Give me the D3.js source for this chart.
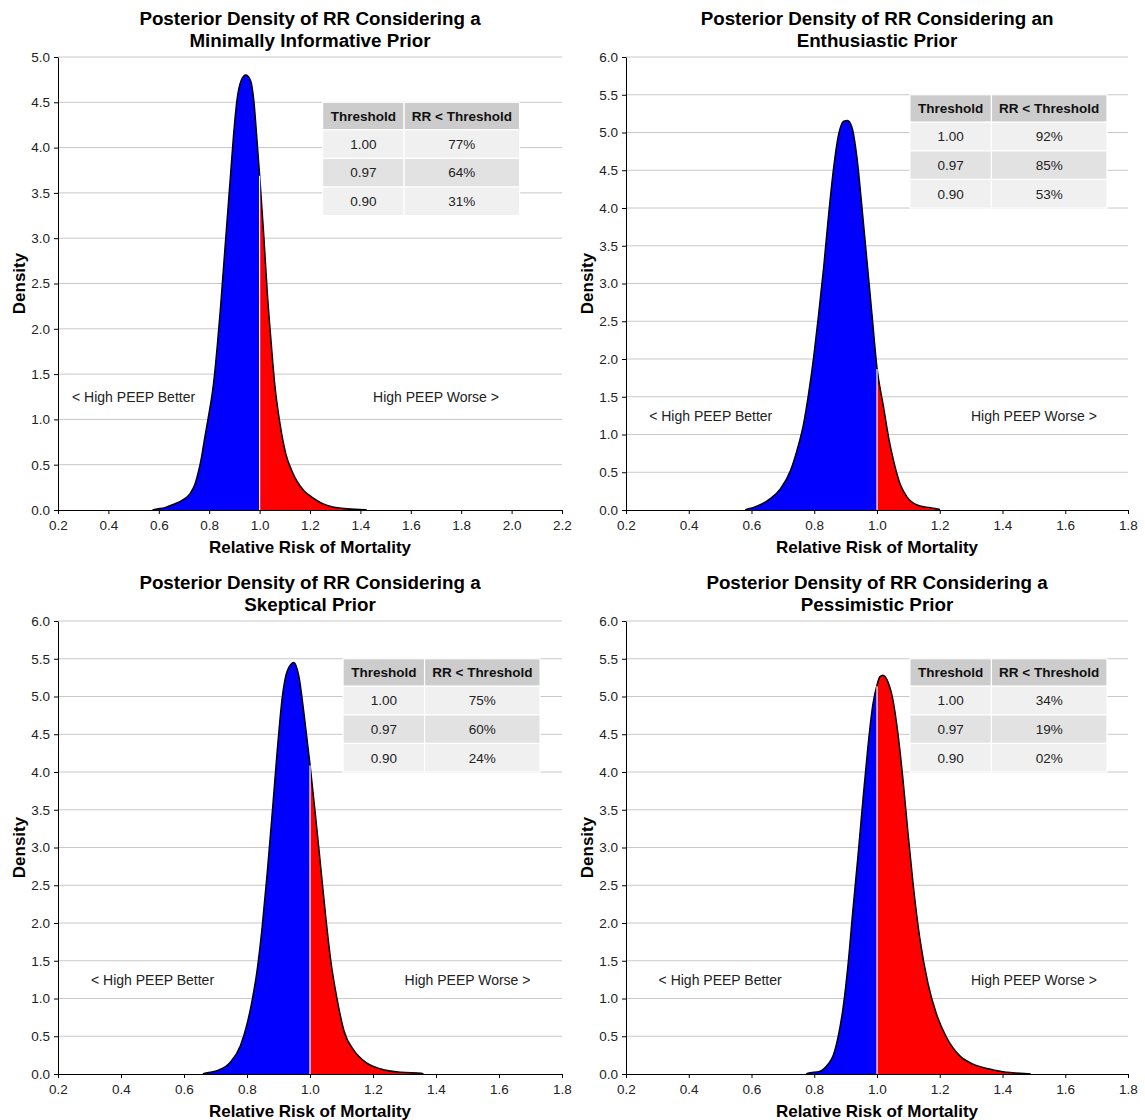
<!DOCTYPE html>
<html><head><meta charset="utf-8">
<script src="https://cdn.jsdelivr.net/npm/d3@7"></script>
<style>body{margin:0;background:#fff}svg{display:block}text{font-family:"Liberation Sans",Arial,sans-serif}</style>
</head><body><svg id="c" width="1145" height="1120"></svg>
<script>
// ---------- data ----------
const titleLine1 = ["Posterior Density of RR Considering a", "Posterior Density of RR Considering an", "Posterior Density of RR Considering a", "Posterior Density of RR Considering a"];
const titleLine2 = ["Minimally Informative Prior", "Enthusiastic Prior", "Skeptical Prior", "Pessimistic Prior"];
const xAxisTitle = "Relative Risk of Mortality";
const yAxisTitle = "Density";
const betterLabel = "< High PEEP Better";
const worseLabel = "High PEEP Worse >";

const xTicksWide = [0.2,0.4,0.6,0.8,1.0,1.2,1.4,1.6,1.8,2.0,2.2];
const xTicksNarrow = [0.2,0.4,0.6,0.8,1.0,1.2,1.4,1.6,1.8];
const yTicks5 = [0,0.5,1,1.5,2,2.5,3,3.5,4,4.5,5];
const yTicks6 = [0,0.5,1,1.5,2,2.5,3,3.5,4,4.5,5,5.5,6];

// Minimally informative prior
const minimalRR = [0.575,0.584,0.624,0.657,0.697,0.724,0.744,0.757,0.770,0.780,0.797,0.817,0.833,0.844,0.857,0.870,0.884,0.897,0.910,0.927,0.945,0.964,0.977,0.990,1.000,1.017,1.030,1.044,1.060,1.081,1.104,1.130,1.150,1.177,1.210,1.250,1.290,1.324,1.377,1.417,1.425];
const minimalDensity = [0,0.007,0.026,0.060,0.115,0.18,0.29,0.42,0.59,0.76,1.03,1.39,1.84,2.20,2.68,3.16,3.67,4.15,4.52,4.74,4.80,4.74,4.52,4.07,3.70,3.01,2.42,1.91,1.39,0.95,0.62,0.42,0.31,0.21,0.137,0.07,0.033,0.019,0.007,0.004,0];
// Enthusiastic prior
const enthusiasticRR = [0.580,0.586,0.607,0.660,0.692,0.724,0.745,0.766,0.782,0.798,0.814,0.830,0.846,0.862,0.878,0.894,0.906,0.920,0.936,0.952,0.968,0.984,1.000,1.021,1.037,1.053,1.074,1.096,1.128,1.170,1.197,1.200];
const enthusiasticDensity = [0,0.01,0.035,0.15,0.28,0.52,0.79,1.14,1.54,2.02,2.59,3.21,3.92,4.54,4.98,5.15,5.16,5.07,4.67,4.01,3.30,2.59,1.88,1.36,0.96,0.65,0.34,0.17,0.066,0.03,0.01,0];
// Skeptical prior
const skepticalRR = [0.660,0.667,0.705,0.747,0.779,0.800,0.816,0.832,0.848,0.864,0.880,0.896,0.912,0.928,0.949,0.965,0.981,1.000,1.018,1.034,1.050,1.066,1.087,1.108,1.140,1.177,1.225,1.289,1.353,1.360];
const skepticalDensity = [0,0.01,0.044,0.155,0.375,0.66,0.97,1.37,1.94,2.65,3.45,4.28,4.99,5.34,5.45,5.26,4.77,4.10,3.40,2.74,2.08,1.50,0.97,0.57,0.31,0.155,0.066,0.022,0.01,0];
// Pessimistic prior
const pessimisticRR = [0.775,0.780,0.817,0.844,0.860,0.876,0.892,0.908,0.923,0.939,0.955,0.971,0.987,1.000,1.009,1.019,1.035,1.051,1.067,1.083,1.099,1.115,1.136,1.163,1.189,1.221,1.264,1.306,1.359,1.412,1.455,1.490];
const pessimisticDensity = [0,0.01,0.035,0.13,0.24,0.49,0.88,1.46,2.16,2.87,3.62,4.33,4.90,5.15,5.26,5.28,5.19,4.95,4.50,3.89,3.18,2.52,1.81,1.19,0.80,0.49,0.24,0.13,0.066,0.022,0.01,0];

const tableHeader = ["Threshold", "RR < Threshold"];
const thresholds = ["1.00", "0.97", "0.90"];
const minimalPct = ["77%", "64%", "31%"];
const enthusiasticPct = ["92%", "85%", "53%"];
const skepticalPct = ["75%", "60%", "24%"];
const pessimisticPct = ["34%", "19%", "02%"];

// ---------- layout ----------
const panels = [
  {rr: minimalRR, dens: minimalDensity, pct: minimalPct, left: 58, right: 562, top: 57, bottom: 510, xMax: 2.2, yMax: 5, xt: xTicksWide, yt: yTicks5, tabX: 1.25, betterX: 0.5, worseX: 1.7, yLab: 19},
  {rr: enthusiasticRR, dens: enthusiasticDensity, pct: enthusiasticPct, left: 626, right: 1128, top: 57, bottom: 510, xMax: 1.8, yMax: 6, xt: xTicksNarrow, yt: yTicks6, tabX: 1.105, betterX: 0.47, worseX: 1.5, yLab: 587},
  {rr: skepticalRR, dens: skepticalDensity, pct: skepticalPct, left: 58, right: 562, top: 621, bottom: 1074, xMax: 1.8, yMax: 6, xt: xTicksNarrow, yt: yTicks6, tabX: 1.105, betterX: 0.5, worseX: 1.5, yLab: 19},
  {rr: pessimisticRR, dens: pessimisticDensity, pct: pessimisticPct, left: 626, right: 1128, top: 621, bottom: 1074, xMax: 1.8, yMax: 6, xt: xTicksNarrow, yt: yTicks6, tabX: 1.105, betterX: 0.5, worseX: 1.5, yLab: 587}
];

const svg = d3.select("#c");
const fmt = d3.format(".1f");

panels.forEach((p, i) => {
  const g = svg.append("g");
  const x = d3.scaleLinear().domain([0.2, p.xMax]).range([p.left, p.right]);
  const y = d3.scaleLinear().domain([0, p.yMax]).range([p.bottom, p.top]);
  const cx = (p.left + p.right) / 2;

  // titles
  g.append("text").attr("x", cx).attr("y", p.top - 32).attr("text-anchor", "middle")
    .attr("font-size", 18.8).attr("font-weight", "bold").attr("fill", "#000").text(titleLine1[i]);
  g.append("text").attr("x", cx).attr("y", p.top - 10).attr("text-anchor", "middle")
    .attr("font-size", 18.8).attr("font-weight", "bold").attr("fill", "#000").text(titleLine2[i]);

  // gridlines
  g.append("g").selectAll("line").data(p.yt.filter(t => t > 0)).join("line")
    .attr("x1", p.left).attr("x2", p.right).attr("y1", d => y(d)).attr("y2", d => y(d))
    .attr("stroke", "#c8c8c8").attr("stroke-width", 1);

  // density
  const pts = p.rr.map((r, k) => ({x: r, d: p.dens[k]}));
  const area = d3.area().x(d => x(d.x)).y0(y(0)).y1(d => y(d.d)).curve(d3.curveMonotoneX);
  const line = d3.line().x(d => x(d.x)).y(d => y(d.d)).curve(d3.curveMonotoneX);
  g.append("path").datum(pts.filter(d => d.x <= 1)).attr("d", area).attr("fill", "#0000ff");
  g.append("path").datum(pts.filter(d => d.x >= 1)).attr("d", area).attr("fill", "#ff0000");
  g.append("path").datum(pts).attr("d", line).attr("fill", "none").attr("stroke", "#000").attr("stroke-width", 1.5);
  const atOne = pts.find(d => d.x === 1);
  g.append("line").attr("x1", x(1)).attr("x2", x(1)).attr("y1", y(0)).attr("y2", y(atOne.d) + 1)
    .attr("stroke", "#fff").attr("stroke-width", 1.2);

  // axes
  const ya = g.append("g").attr("transform", `translate(${p.left},0)`)
    .call(d3.axisLeft(y).tickValues(p.yt).tickFormat(fmt).tickSize(4).tickPadding(4).tickSizeOuter(0));
  const xa = g.append("g").attr("transform", `translate(0,${p.bottom})`)
    .call(d3.axisBottom(x).tickValues(p.xt).tickFormat(fmt).tickSize(4).tickPadding(6).tickSizeOuter(0));
  [ya, xa].forEach(a => {
    a.select(".domain").attr("stroke", "#000");
    a.selectAll(".tick line").attr("stroke", "#000");
    a.selectAll(".tick text").attr("fill", "#222").attr("font-size", 13.5)
      .attr("font-family", '"Liberation Sans", Arial, sans-serif');
  });

  // axis titles
  g.append("text").attr("x", cx).attr("y", p.bottom + 43).attr("text-anchor", "middle")
    .attr("font-size", 17).attr("font-weight", "bold").attr("fill", "#000").text(xAxisTitle);
  g.append("text").attr("transform", `translate(${p.yLab + 6},${(p.top + p.bottom) / 2}) rotate(-90)`)
    .attr("text-anchor", "middle").attr("font-size", 17).attr("font-weight", "bold").attr("fill", "#000").text(yAxisTitle);

  // annotations
  g.append("text").attr("x", x(p.betterX)).attr("y", y(1.25) + 5).attr("text-anchor", "middle")
    .attr("font-size", 14).attr("fill", "#222").text(betterLabel);
  g.append("text").attr("x", x(p.worseX)).attr("y", y(1.25) + 5).attr("text-anchor", "middle")
    .attr("font-size", 14).attr("fill", "#222").text(worseLabel);

  // table
  const tx = x(p.tabX), ty = y(p.yMax - 0.5);
  const cw = [81.5, 115.5], hh = 27.5, rh = 28.6;
  const tg = g.append("g").attr("transform", `translate(${tx},${ty})`);
  const rowFill = ["#f0f0f0", "#e2e2e2", "#f0f0f0"];
  tableHeader.forEach((h, c) => {
    const x0 = c === 0 ? 0 : cw[0];
    tg.append("rect").attr("x", x0).attr("y", 0).attr("width", cw[c]).attr("height", hh)
      .attr("fill", "#cccccc").attr("stroke", "#fff").attr("stroke-width", 1.2);
    tg.append("text").attr("x", x0 + cw[c] / 2).attr("y", hh / 2 + 4.8).attr("text-anchor", "middle")
      .attr("font-size", 13.5).attr("font-weight", "bold").attr("fill", "#111").text(h);
  });
  thresholds.forEach((t, r) => {
    const y0 = hh + r * rh;
    [t, p.pct[r]].forEach((v, c) => {
      const x0 = c === 0 ? 0 : cw[0];
      tg.append("rect").attr("x", x0).attr("y", y0).attr("width", cw[c]).attr("height", rh)
        .attr("fill", rowFill[r]).attr("stroke", "#fff").attr("stroke-width", 1.2);
      tg.append("text").attr("x", x0 + cw[c] / 2).attr("y", y0 + rh / 2 + 4.8).attr("text-anchor", "middle")
        .attr("font-size", 13.5).attr("fill", "#222").text(v);
    });
  });
});
</script></body></html>
